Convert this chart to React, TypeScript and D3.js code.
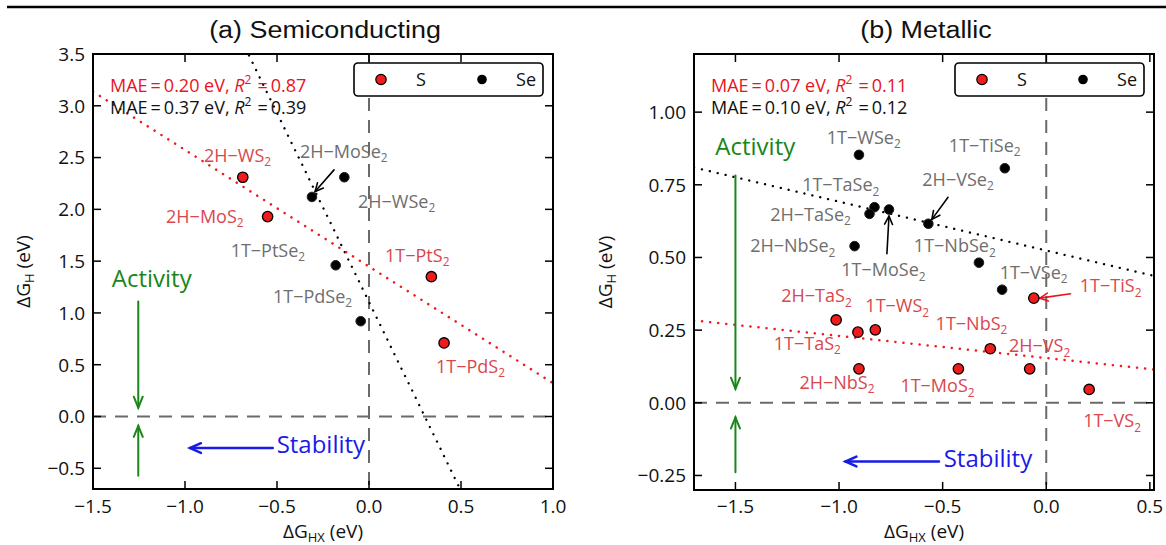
import React from "react";
import * as d3 from "d3";

// ---------- DATA ----------
// (a) Semiconducting
const semiS = [
  { name: "2H−WS_2", x: -0.686, y: 2.31 },
  { name: "2H−MoS_2", x: -0.551, y: 1.93 },
  { name: "1T−PtS_2", x: 0.339, y: 1.35 },
  { name: "1T−PdS_2", x: 0.408, y: 0.71 },
];
const semiSe = [
  { name: "2H−MoSe_2", x: -0.31, y: 2.12 },
  { name: "2H−WSe_2", x: -0.134, y: 2.31 },
  { name: "1T−PtSe_2", x: -0.181, y: 1.46 },
  { name: "1T−PdSe_2", x: -0.045, y: 0.92 },
];
// label anchors (left x, baseline y) in data units
const semiLabelsS = [
  { text: "2H−WS_2", x: -0.897, y: 2.46 },
  { text: "2H−MoS_2", x: -1.103, y: 1.87 },
  { text: "1T−PtS_2", x: 0.087, y: 1.496 },
  { text: "1T−PdS_2", x: 0.364, y: 0.422 },
];
const semiLabelsSe = [
  { text: "2H−MoSe_2", x: -0.375, y: 2.497 },
  { text: "2H−WSe_2", x: -0.06, y: 2.015 },
  { text: "1T−PtSe_2", x: -0.752, y: 1.544 },
  { text: "1T−PdSe_2", x: -0.522, y: 1.097 },
];
const semiArrows = [{ x1: -0.19, y1: 2.381, x2: -0.293, y2: 2.172, color: "#000" }];
const semiFitS = { slope: -1.126, intercept: 1.448 };
const semiFitSe = { slope: -3.649, intercept: 1.106 };
const semiStatsS = ["0.20", "0.87"];
const semiStatsSe = ["0.37", "0.39"];
const semiXTicks = [-1.5, -1.0, -0.5, 0.0, 0.5, 1.0];
const semiYTicks = [-0.5, 0.0, 0.5, 1.0, 1.5, 2.0, 2.5, 3.0, 3.5];
const semiXDomain = [-1.5, 1.0];
const semiYDomain = [-0.7, 3.5];
const semiActivity = { tx: -1.398, ty: 1.255, ax: -1.254, down: [1.11, 0.084], up: [-0.572, -0.09] };
const semiStability = { tx: -0.502, ty: -0.35, ay: -0.305, from: -0.523, to: -0.973 };

// (b) Metallic
const metS = [
  { name: "1T−TiS_2", x: -0.06, y: 0.36 },
  { name: "2H−TaS_2", x: -1.014, y: 0.285 },
  { name: "1T−TaS_2", x: -0.909, y: 0.243 },
  { name: "1T−WS_2", x: -0.825, y: 0.251 },
  { name: "1T−NbS_2", x: -0.27, y: 0.186 },
  { name: "2H−NbS_2", x: -0.904, y: 0.117 },
  { name: "1T−MoS_2", x: -0.424, y: 0.117 },
  { name: "2H−VS_2", x: -0.08, y: 0.117 },
  { name: "1T−VS_2", x: 0.207, y: 0.046 },
];
const metSe = [
  { name: "1T−WSe_2", x: -0.904, y: 0.853 },
  { name: "1T−TiSe_2", x: -0.2, y: 0.807 },
  { name: "1T−TaSe_2", x: -0.829, y: 0.673 },
  { name: "2H−TaSe_2", x: -0.853, y: 0.65 },
  { name: "1T−MoSe_2", x: -0.759, y: 0.665 },
  { name: "2H−VSe_2", x: -0.569, y: 0.616 },
  { name: "2H−NbSe_2", x: -0.925, y: 0.539 },
  { name: "1T−NbSe_2", x: -0.325, y: 0.482 },
  { name: "1T−VSe_2", x: -0.213, y: 0.389 },
];
const metLabelsS = [
  { text: "1T−TiS_2", x: 0.162, y: 0.38 },
  { text: "2H−TaS_2", x: -1.279, y: 0.346 },
  { text: "1T−WS_2", x: -0.873, y: 0.312 },
  { text: "1T−NbS_2", x: -0.534, y: 0.251 },
  { text: "1T−TaS_2", x: -1.315, y: 0.182 },
  { text: "2H−VS_2", x: -0.18, y: 0.174 },
  { text: "2H−NbS_2", x: -1.191, y: 0.048 },
  { text: "1T−MoS_2", x: -0.704, y: 0.036 },
  { text: "1T−VS_2", x: 0.178, y: -0.084 },
];
const metLabelsSe = [
  { text: "1T−WSe_2", x: -1.059, y: 0.891 },
  { text: "1T−TiSe_2", x: -0.47, y: 0.864 },
  { text: "2H−VSe_2", x: -0.598, y: 0.747 },
  { text: "1T−TaSe_2", x: -1.178, y: 0.728 },
  { text: "2H−TaSe_2", x: -1.332, y: 0.627 },
  { text: "2H−NbSe_2", x: -1.429, y: 0.518 },
  { text: "1T−MoSe_2", x: -0.989, y: 0.436 },
  { text: "1T−NbSe_2", x: -0.639, y: 0.518 },
  { text: "1T−VSe_2", x: -0.225, y: 0.427 },
];
const metArrows = [
  { x1: -0.474, y1: 0.707, x2: -0.552, y2: 0.631, color: "#000" },
  { x1: -0.769, y1: 0.513, x2: -0.759, y2: 0.642, color: "#000" },
  { x1: 0.117, y1: 0.375, x2: -0.031, y2: 0.36, color: "#e8141e" },
];
const metFitS = { slope: -0.076, intercept: 0.154 };
const metFitSe = { slope: -0.168, intercept: 0.524 };
const metStatsS = ["0.07", "0.11"];
const metStatsSe = ["0.10", "0.12"];
const metXTicks = [-1.5, -1.0, -0.5, 0.0, 0.5];
const metYTicks = [-0.25, 0.0, 0.25, 0.5, 0.75, 1.0];
const metXDomain = [-1.7, 0.52];
const metYDomain = [-0.3, 1.2];
const metActivity = { tx: -1.597, ty: 0.854, ax: -1.5, down: [0.782, 0.048], up: [-0.239, -0.05] };
const metStability = { tx: -0.495, ty: -0.222, ay: -0.202, from: -0.518, to: -0.969 };

// ---------- STYLE ----------
const FONT = "'Open Sans', 'DejaVu Sans', sans-serif";
const RED = "#ee1c1c";
const RED_TXT = "#d9474d";
const GREY_TXT = "#6e6e6e";
const GREEN = "#1a861a";
const BLUE = "#1a1ae6";

const fmtMinus = (s: string) => s.replace("-", "−");

function Chem({ text, x, y, fill, size = 18 }: any) {
  const [main, sub] = text.split("_");
  return (
    <text x={x} y={y} fill={fill} fontSize={size} fontFamily={FONT}>
      {main}
      {sub && (
        <tspan fontSize={size * 0.66} dy={size * 0.25}>
          {sub}
        </tspan>
      )}
    </text>
  );
}

function Arrow({ x1, y1, x2, y2, color, width = 1.6, head = 10, ang = 26 }: any) {
  const a = Math.atan2(y2 - y1, x2 - x1);
  const r = (ang * Math.PI) / 180;
  const hx1 = x2 - head * Math.cos(a - r);
  const hy1 = y2 - head * Math.sin(a - r);
  const hx2 = x2 - head * Math.cos(a + r);
  const hy2 = y2 - head * Math.sin(a + r);
  return (
    <g stroke={color} strokeWidth={width} fill="none" strokeLinecap="round">
      <line x1={x1} y1={y1} x2={x2} y2={y2} />
      <polyline points={`${hx1},${hy1} ${x2},${y2} ${hx2},${hy2}`} />
    </g>
  );
}

function Panel({ cfg }: any) {
  const { left, right, top, bottom } = cfg;
  const x = d3.scaleLinear().domain(cfg.xDomain).range([left, right]);
  const y = d3.scaleLinear().domain(cfg.yDomain).range([bottom, top]);
  const clipId = "clip-" + cfg.id;
  const tick = 8;
  const fitLine = (fit: any) => {
    const xs = x.domain();
    const gen = d3
      .line<number>()
      .x((d) => x(d))
      .y((d) => y(fit.intercept + fit.slope * d));
    return gen(xs) as string;
  };
  const legW = 189;
  const legX = right - 10 - legW;
  const legY = top + 9;
  const statText = (stats: string[], color: string, yy: number) => (
    <text x={left + 17} y={yy} fill={color} fontSize={18} fontFamily={FONT}>
      {`MAE\u2009=\u2009${stats[0]} eV, `}
      <tspan fontStyle="italic">R</tspan>
      <tspan fontSize={12} dy={-8}>
        2
      </tspan>
      <tspan dy={8}>{`\u2009\u2009=\u2009${stats[1]}`}</tspan>
    </text>
  );
  const act = cfg.activity;
  const stab = cfg.stability;
  return (
    <g>
      <defs>
        <clipPath id={clipId}>
          <rect x={left} y={top} width={right - left} height={bottom - top} />
        </clipPath>
      </defs>
      {/* title */}
      <text
        transform={`translate(${(left + right) / 2 + 2},38) scale(1.17,1)`}
        textAnchor="middle"
        fontSize={23}
        fontFamily="'Liberation Sans', Arial, sans-serif"
        fill="#111"
      >
        {cfg.title}
      </text>
      <g clipPath={`url(#${clipId})`}>
        {/* zero lines */}
        <line x1={left} x2={right} y1={y(0)} y2={y(0)} stroke="#6a6a6a" strokeWidth={2} strokeDasharray="13,9" />
        <line x1={x(0)} x2={x(0)} y1={top} y2={bottom} stroke="#6a6a6a" strokeWidth={2} strokeDasharray="13,9" />
        {/* fits */}
        <path d={fitLine(cfg.fitSe)} stroke="#000" strokeWidth={2.3} strokeDasharray="0.1,8" strokeLinecap="round" fill="none" />
        <path d={fitLine(cfg.fitS)} stroke={RED} strokeWidth={2.5} strokeDasharray="0.1,8" strokeLinecap="round" fill="none" />
      </g>
      {/* activity / stability */}
      <text x={x(act.tx)} y={y(act.ty)} fill={GREEN} fontSize={24} fontFamily={FONT}>
        Activity
      </text>
      <Arrow x1={x(act.ax)} y1={y(act.down[0])} x2={x(act.ax)} y2={y(act.down[1])} color={GREEN} width={2} head={12} ang={22} />
      <Arrow x1={x(act.ax)} y1={y(act.up[0])} x2={x(act.ax)} y2={y(act.up[1])} color={GREEN} width={2} head={12} ang={22} />
      <Arrow x1={x(stab.from)} y1={y(stab.ay)} x2={x(stab.to)} y2={y(stab.ay)} color={BLUE} width={2.5} head={12} ang={24} />
      <text x={x(stab.tx)} y={y(stab.ty)} fill={BLUE} fontSize={24} fontFamily={FONT}>
        Stability
      </text>
      {/* arrows for labels */}
      {cfg.arrows.map((a: any, i: number) => (
        <Arrow key={i} x1={x(a.x1)} y1={y(a.y1)} x2={x(a.x2)} y2={y(a.y2)} color={a.color} width={1.6} head={9} />
      ))}
      {/* points */}
      {cfg.se.map((d: any, i: number) => (
        <circle key={"se" + i} cx={x(d.x)} cy={y(d.y)} r={4.8} fill="#000" stroke="#222" strokeWidth={1} />
      ))}
      {cfg.s.map((d: any, i: number) => (
        <circle key={"s" + i} cx={x(d.x)} cy={y(d.y)} r={5.2} fill={RED} stroke="#000" strokeWidth={1.3} />
      ))}
      {/* labels */}
      {cfg.labelsSe.map((l: any, i: number) => (
        <Chem key={"lse" + i} text={l.text} x={x(l.x)} y={y(l.y)} fill={GREY_TXT} />
      ))}
      {cfg.labelsS.map((l: any, i: number) => (
        <Chem key={"ls" + i} text={l.text} x={x(l.x)} y={y(l.y)} fill={RED_TXT} />
      ))}
      {/* stats */}
      {statText(cfg.statsS, "#e8141e", top + 38)}
      {statText(cfg.statsSe, "#111", top + 60)}
      {/* legend */}
      <rect x={legX} y={legY} width={legW} height={33} rx={4} fill="#fff" stroke="#000" strokeWidth={1.6} />
      <circle cx={legX + 27} cy={legY + 16.5} r={5.2} fill={RED} stroke="#000" strokeWidth={1.2} />
      <text x={legX + 62} y={legY + 23} fontSize={18} fontFamily={FONT} fill="#111">
        S
      </text>
      <circle cx={legX + 128} cy={legY + 16.5} r={4.8} fill="#000" />
      <text x={legX + 182} y={legY + 23} fontSize={18} fontFamily={FONT} fill="#111" textAnchor="end">
        Se
      </text>
      {/* frame */}
      <rect x={left} y={top} width={right - left} height={bottom - top} fill="none" stroke="#000" strokeWidth={2} />
      {/* ticks */}
      {cfg.xTicks.map((t: number, i: number) => (
        <g key={"xt" + i}>
          <line x1={x(t)} x2={x(t)} y1={bottom} y2={bottom - tick} stroke="#000" strokeWidth={1.5} />
          <line x1={x(t)} x2={x(t)} y1={top} y2={top + tick} stroke="#000" strokeWidth={1.5} />
          <text x={x(t)} y={513} textAnchor="middle" fontSize={19} fontFamily={FONT} fill="#111">
            {fmtMinus(d3.format(".1f")(t))}
          </text>
        </g>
      ))}
      {cfg.yTicks.map((t: number, i: number) => (
        <g key={"yt" + i}>
          <line x1={left} x2={left + tick} y1={y(t)} y2={y(t)} stroke="#000" strokeWidth={1.5} />
          <line x1={right} x2={right - tick} y1={y(t)} y2={y(t)} stroke="#000" strokeWidth={1.5} />
          <text x={left - 8} y={y(t)} dy="0.36em" textAnchor="end" fontSize={19} fontFamily={FONT} fill="#111">
            {fmtMinus(d3.format(cfg.yFmt)(t))}
          </text>
        </g>
      ))}
      {/* axis titles */}
      <text x={(left + right) / 2} y={538} textAnchor="middle" fontSize={19} fontFamily={FONT} fill="#111">
        ΔG
        <tspan fontSize={13} dy={4}>
          HX
        </tspan>
        <tspan dy={-4}> (eV)</tspan>
      </text>
      <text
        transform={`translate(${cfg.yLabelX},${(top + bottom) / 2}) rotate(-90)`}
        textAnchor="middle"
        fontSize={19}
        fontFamily={FONT}
        fill="#111"
      >
        ΔG
        <tspan fontSize={13} dy={4}>
          H
        </tspan>
        <tspan dy={-4}> (eV)</tspan>
      </text>
    </g>
  );
}

const panels = [
  {
    id: "a",
    title: "(a) Semiconducting",
    left: 93,
    right: 553,
    top: 54,
    bottom: 489,
    xDomain: semiXDomain,
    yDomain: semiYDomain,
    xTicks: semiXTicks,
    yTicks: semiYTicks,
    yFmt: ".1f",
    s: semiS,
    se: semiSe,
    labelsS: semiLabelsS,
    labelsSe: semiLabelsSe,
    arrows: semiArrows,
    fitS: semiFitS,
    fitSe: semiFitSe,
    statsS: semiStatsS,
    statsSe: semiStatsSe,
    activity: semiActivity,
    stability: semiStability,
    yLabelX: 30,
  },
  {
    id: "b",
    title: "(b) Metallic",
    left: 694,
    right: 1154,
    top: 54,
    bottom: 490,
    xDomain: metXDomain,
    yDomain: metYDomain,
    xTicks: metXTicks,
    yTicks: metYTicks,
    yFmt: ".2f",
    s: metS,
    se: metSe,
    labelsS: metLabelsS,
    labelsSe: metLabelsSe,
    arrows: metArrows,
    fitS: metFitS,
    fitSe: metFitSe,
    statsS: metStatsS,
    statsSe: metStatsSe,
    activity: metActivity,
    stability: metStability,
    yLabelX: 612,
  },
];

export default function App() {
  return (
    <div style={{ position: "absolute", left: 0, top: 0 }}>
      <svg width={1166} height={545} viewBox="0 0 1166 545" style={{ display: "block", background: "#fff" }}>
        <rect width={1166} height={545} fill="#fff" />
        <line x1={7} x2={1166} y1={7} y2={7} stroke="#000" strokeWidth={2.5} />
        {panels.map((p) => (
          <Panel key={p.id} cfg={p} />
        ))}
      </svg>
    </div>
  );
}
